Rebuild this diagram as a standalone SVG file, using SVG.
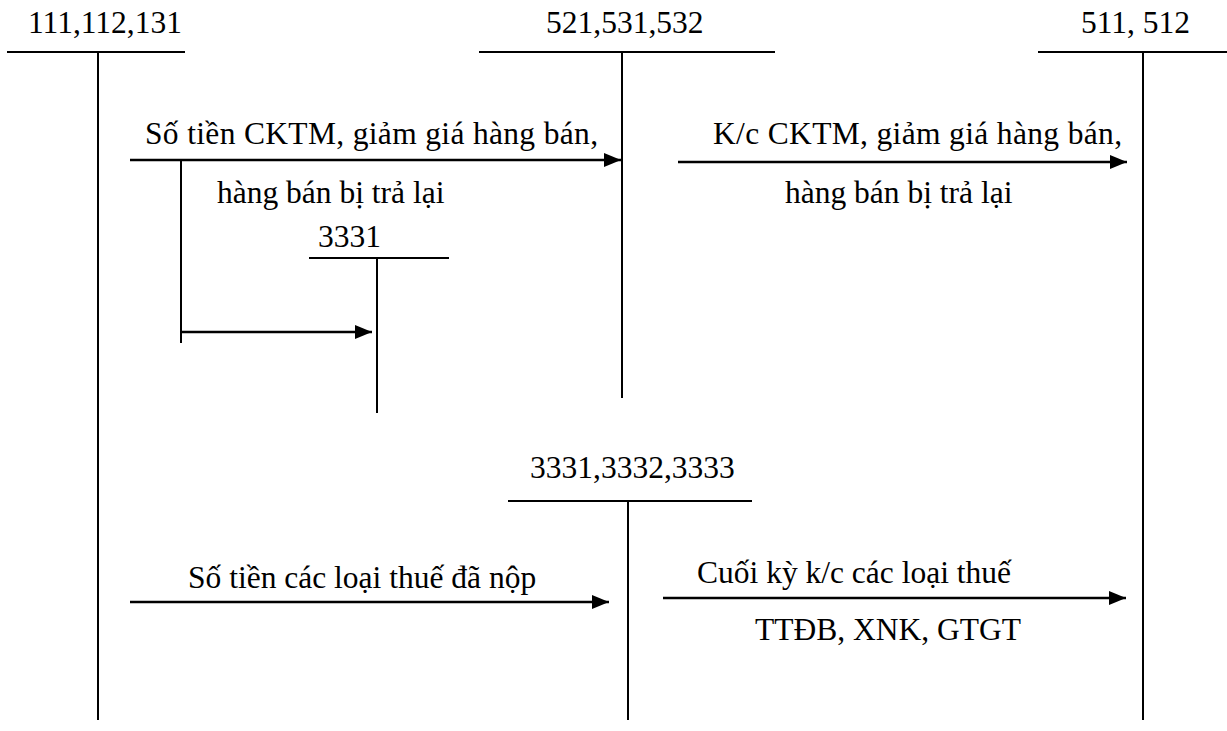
<svg xmlns="http://www.w3.org/2000/svg" width="1227" height="731" viewBox="0 0 1227 731">
<style>
text{font-family:"Liberation Serif","Times New Roman",serif;font-size:31.5px;fill:#000}
.t{stroke:#000;stroke-width:2;fill:none}
.v{stroke:#000;stroke-width:2;fill:none}
.a{stroke:#000;stroke-width:2.5;fill:none;marker-end:url(#ah)}
</style>
<defs>
<marker id="ah" markerWidth="17" markerHeight="14" refX="17" refY="7" orient="auto" markerUnits="userSpaceOnUse">
<path d="M0,0 L17,7 L0,14 Z" fill="#000"/>
</marker>
</defs>
<rect width="1227" height="731" fill="#fff"/>
<g id="acc-111">
<text x="28" y="33">111,112,131</text>
<line class="t" x1="7" y1="52" x2="185" y2="52"/>
<line class="v" x1="98" y1="52" x2="98" y2="720"/>
</g>
<g id="acc-521">
<text x="546" y="33">521,531,532</text>
<line class="t" x1="479" y1="52" x2="775" y2="52"/>
<line class="v" x1="622" y1="52" x2="622" y2="398"/>
</g>
<g id="acc-511">
<text x="1081" y="33">511, 512</text>
<line class="t" x1="1038" y1="52" x2="1227" y2="52"/>
<line class="v" x1="1143" y1="52" x2="1143" y2="720"/>
</g>
<g id="acc-3331">
<text x="318" y="247">3331</text>
<line class="t" x1="309" y1="258" x2="449" y2="258"/>
<line class="v" x1="377" y1="258" x2="377" y2="413"/>
</g>
<g id="acc-333x">
<text x="530" y="478">3331,3332,3333</text>
<line class="t" x1="508" y1="501" x2="752" y2="501"/>
<line class="v" x1="628" y1="501" x2="628" y2="720"/>
</g>
<g id="connectors">
<line class="a" x1="130" y1="160" x2="621" y2="160"/>
<line class="v" x1="181" y1="160" x2="181" y2="343"/>
<line class="a" x1="181" y1="332" x2="372" y2="332"/>
<line class="a" x1="678" y1="162" x2="1127" y2="162"/>
<line class="a" x1="130" y1="602" x2="609" y2="602"/>
<line class="a" x1="663" y1="598" x2="1126" y2="598"/>
</g>
<g id="labels">
<text x="145" y="144" textLength="453" lengthAdjust="spacing">Số tiền CKTM, giảm giá hàng bán,</text>
<text x="217" y="203">hàng bán bị trả lại</text>
<text x="713" y="144" textLength="409" lengthAdjust="spacing">K/c CKTM, giảm giá hàng bán,</text>
<text x="785" y="203">hàng bán bị trả lại</text>
<text x="188" y="588">Số tiền các loại thuế đã nộp</text>
<text x="697" y="583">Cuối kỳ k/c các loại thuế</text>
<text x="755" y="640">TTĐB, XNK, GTGT</text>
</g>
</svg>
